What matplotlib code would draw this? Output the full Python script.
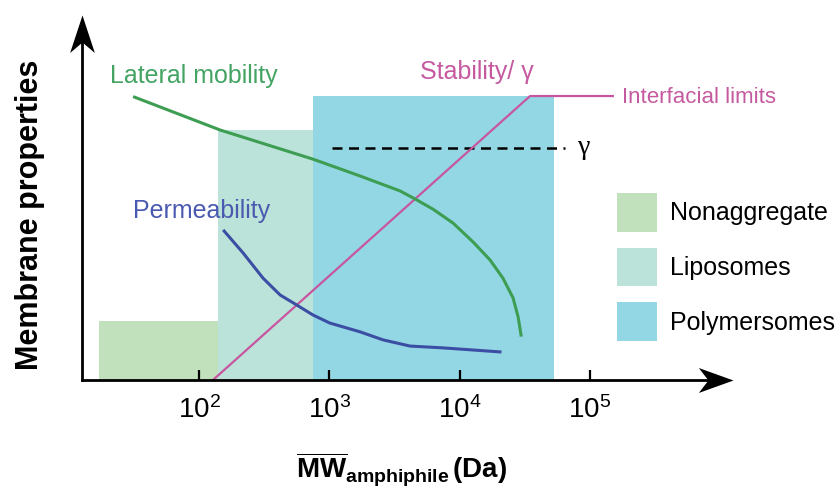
import numpy as np
import matplotlib
matplotlib.use('Agg')
import matplotlib.pyplot as plt
from matplotlib.patches import Patch
from matplotlib.path import Path
from matplotlib.ticker import NullLocator

plt.rcParams['font.family'] = ['Liberation Sans', 'DejaVu Sans']
plt.rcParams['mathtext.fontset'] = 'custom'
plt.rcParams['mathtext.rm'] = 'Liberation Sans'
plt.rcParams['mathtext.it'] = 'Liberation Sans:italic'
plt.rcParams['mathtext.bf'] = 'Liberation Sans:bold'

# regions (MW in Da)
regions = ['Nonaggregate', 'Liposomes', 'Polymersomes']
region_lo = [17, 140, 750]
region_hi = [140, 750, 53000]
region_top = [1.62, 6.85, 7.78]
region_colors = ['#c1e1bd', '#bce3d9', '#93d7e4']

# lateral mobility
lat_mw = [32, 145, 750, 1720, 3490, 4550, 6250, 8900, 12700, 17100,
          21500, 25700, 28100, 29600]
lat_y = [7.75, 6.85, 6.05, 5.59, 5.18, 4.96, 4.68, 4.30, 3.78, 3.29,
         2.79, 2.25, 1.73, 1.23]

# permeability
perm_mw = [156, 218, 310, 419, 565, 750, 1010, 1720, 2580, 4160, 7460, 20400]
perm_y = [4.08, 3.48, 2.79, 2.33, 2.05, 1.78, 1.56, 1.32, 1.10, 0.93, 0.88, 0.77]

# stability / gamma, up to interfacial limits
stab_mw = [128, 34700, 150000]
stab_y = [0, 7.78, 7.78]

# gamma reference level
gamma_mw = [1050, 64000]
gamma_y = [6.36, 6.36]

ticks = [1e2, 1e3, 1e4, 1e5]
tick_labels = [r'$\mathregular{10^2}$', r'$\mathregular{10^3}$',
               r'$\mathregular{10^4}$', r'$\mathregular{10^5}$']

green = '#3d9d52'
blue = '#3b4ea4'
pink = '#c755a0'

fig = plt.figure(figsize=(8.38, 4.9), dpi=100)
ax = fig.add_axes([82 / 838, 110 / 490, 651 / 838, 365 / 490])
ax.set_xscale('log')
ax.set_xlim(10 ** 1.102, 10 ** 6.098)
ax.set_ylim(0, 10)

for lo, hi, top, c in zip(region_lo, region_hi, region_top, region_colors):
    ax.bar(lo, top, width=hi - lo, align='edge', color=c, linewidth=0, zorder=1)

ax.plot(gamma_mw, gamma_y, color='k', lw=1.8, dashes=(4, 2.6), zorder=2)
ax.plot(stab_mw, stab_y, color=pink, lw=1.6, zorder=3)
ax.plot(lat_mw, lat_y, color=green, lw=2.2, zorder=3, solid_joinstyle='round')
ax.plot(perm_mw, perm_y, color=blue, lw=2.2, zorder=3, solid_joinstyle='round')

ax.text(20.7, 8.33, 'Lateral mobility', color='#45a463', fontsize=18, va='center')
ax.text(31, 4.63, 'Permeability', color='#4a5ab0', fontsize=18, va='center')
ax.text(4970, 8.44, 'Stability/ γ', color='#c65aa0', fontsize=18, va='center')
ax.text(176000, 7.73, 'Interfacial limits', color='#c65aa0', fontsize=16, va='center')
ax.text(81000, 6.36, 'γ', color='k', fontsize=20, va='center',
        family=['Liberation Serif', 'DejaVu Serif'])

for s in ax.spines.values():
    s.set_visible(False)
ax.set_yticks([])
ax.set_xticks(ticks)
ax.set_xticklabels(tick_labels)
ax.xaxis.set_minor_locator(NullLocator())
ax.tick_params(axis='x', direction='in', length=7, width=1.6, pad=12, labelsize=20)

# axes as arrows
ax.plot([0, 0.985], [0, 0], transform=ax.transAxes, color='k', lw=2, clip_on=False, zorder=5)
ax.plot([0, 0], [0, 0.98], transform=ax.transAxes, color='k', lw=2, clip_on=False, zorder=5)
head_x = Path([(0, 0), (-1, 0.36), (-0.72, 0), (-1, -0.36), (0, 0)],
              [Path.MOVETO, Path.LINETO, Path.LINETO, Path.LINETO, Path.CLOSEPOLY])
head_y = Path([(0, 0), (0.33, -1), (0, -0.72), (-0.33, -1), (0, 0)],
              [Path.MOVETO, Path.LINETO, Path.LINETO, Path.LINETO, Path.CLOSEPOLY])
ax.plot([1], [0], transform=ax.transAxes, marker=head_x, markersize=50,
        color='k', mew=0, clip_on=False, zorder=6)
ax.plot([0], [1], transform=ax.transAxes, marker=head_y, markersize=54,
        color='k', mew=0, clip_on=False, zorder=6)

handles = [Patch(facecolor=c, edgecolor='none', label=r) for r, c in zip(regions, region_colors)]
ax.legend(handles=handles, loc='upper left', bbox_to_anchor=(617 / 838, 1 - 193 / 490),
          bbox_transform=fig.transFigure, frameon=False, fontsize=18,
          handlelength=1.6, handleheight=2.0, handletextpad=0.5,
          labelspacing=0.64, borderpad=0, borderaxespad=0)

fig.text(30 / 838, 1 - 215 / 490, 'Membrane properties', rotation=90,
         fontsize=22, fontweight='bold', ha='center', va='center')
fig.text(402 / 838, 1 - 470 / 490,
         r'$\mathbf{\overline{MW}_{amphiphile}\,(Da)}$',
         fontsize=20, ha='center', va='center')

fig.savefig('out.png', dpi=100)
